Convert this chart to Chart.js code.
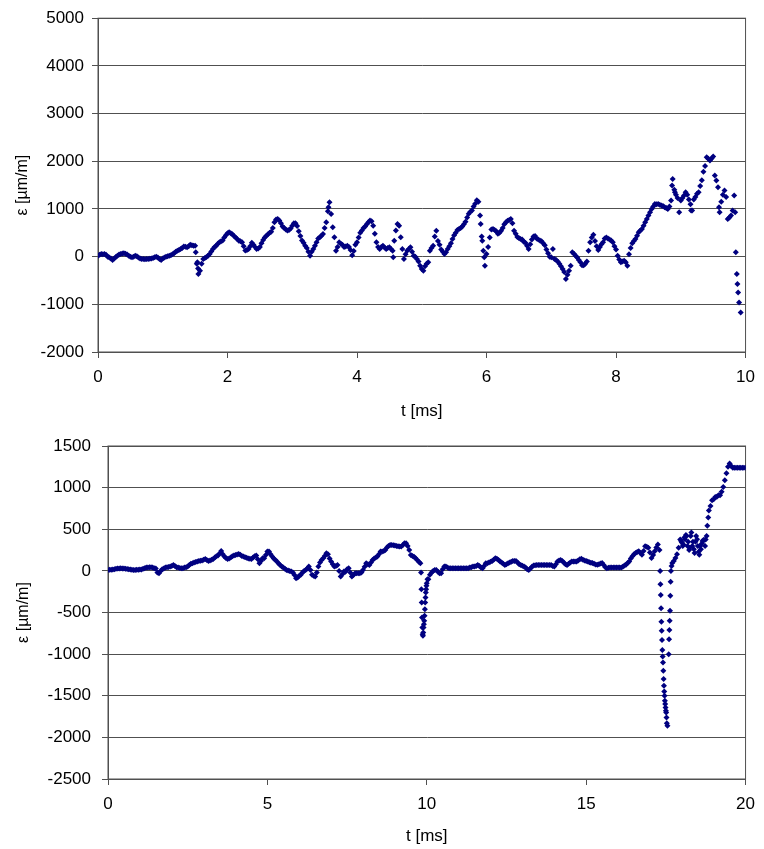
<!DOCTYPE html>
<html>
<head>
<meta charset="utf-8">
<script src="https://cdn.jsdelivr.net/npm/chart.js@4.4.1/dist/chart.umd.min.js"></script>
<style>
  html, body { margin: 0; padding: 0; background: #fff; }
  #wrap { position: relative; width: 764px; height: 849px; }
  canvas { position: absolute; left: 0; }
  #topChart { top: 0; }
  #bottomChart { top: 424px; }
</style>
</head>
<body>
<div id="wrap">
  <canvas id="topChart" width="764" height="424"></canvas>
  <canvas id="bottomChart" width="764" height="425"></canvas>
</div>
<script>
// ---- data (strain in µm/m) ----

// upper record: 0 .. 9.925 ms, one reading every 0.025 ms (one row = 0.5 ms)
const topStep = 0.025;
const topStrain = [
	20, 40, 55, 50, 55, 40, 0, -20, -40, -70, -40, -10, 20, 45, 55, 65, 70, 60, 45, 20,
	0, -15, 0, 20, 10, -20, -40, -50, -50, -55, -50, -50, -45, -40, -30, -15, 0, -20, -50, -70,
	-40, -20, 0, 10, 20, 30, 50, 70, 100, 125, 140, 160, 180, 210, 205, 195, 220, 250, 240, 230,
	230, -150, -365, -295, -150, -50, -30, -10, 20, 55, 110, 160, 200, 230, 270, 300, 320, 340, 400, 450,
	490, 510, 490, 470, 430, 400, 370, 335, 320, 300, 220, 130, 140, 160, 220, 290, 250, 200, 160, 170,
	200, 280, 350, 400, 440, 470, 500, 520, 600, 720, 780, 790, 760, 700, 630, 600, 570, 550, 560, 590,
	650, 700, 700, 640, 530, 430, 340, 290, 230, 180, 100, 20, 100, 160, 230, 300, 380, 405, 440, 475,
	600, 720, 950, 1140, 895, 615, 405, 125, 200, 300, 270, 250, 200, 210, 230, 200, 140, 30, 120, 250,
	300, 400, 500, 550, 600, 630, 680, 720, 760, 740, 650, 480, 300, 200, 160, 200, 230, 190, 160, 180,
	195, 160, 125, 335, 550, 685, 650, 405, 160, -50, 50, 125, 160, 195, 100, 20, 0, -50, -100, -190,
	-260, -295, -200, -150, -120, 125, 180, 230, 420, 545, 330, 250, 150, 100, 55, 90, 160, 220, 280, 370,
	450, 500, 560, 580, 600, 630, 680, 730, 820, 900, 940, 965, 1050, 1110, 1180, 1150, 860, 420, 125, -190,
	55, 200, 400, 570, 580, 560, 530, 480, 500, 545, 600, 680, 720, 750, 770, 790, 700, 545, 480, 410,
	390, 370, 360, 310, 290, 230, 160, 260, 360, 420, 430, 380, 360, 340, 320, 280, 240, 150, 70, 0,
	-15, 160, -50, -70, -100, -150, -200, -260, -320, -470, -380, -295, -190, 90, 60, 20, -20, -70, -120, -180,
	-180, -150, -100, 125, 300, 400, 460, 330, 220, 140, 200, 260, 300, 380, 400, 380, 360, 340, 300, 220,
	150, 20, -60, -120, -100, -85, -120, -190, 50, 180, 280, 330, 370, 440, 510, 550, 580, 650, 720, 790,
	860, 930, 1000, 1050, 1105, 1100, 1105, 1090, 1070, 1060, 1035, 1020, 1000, 1050, 1175, 1630, 1400, 1300, 1230, 930,
	1175, 1230, 1280, 1350, 1300, 1200, 1100, 965, 1200, 1250, 1320, 1350, 1480, 1600, 1780, 1900, 2085, 2050, 2015, 2060,
	2100, 1700, 1595, 1455, 930, 1150, 1300, 1385, 1250, 790, 820, 860, 965, 1280, 90, -575, -960, -1170
];
// stray readings between the regular samples of the upper record
const topExtraTime = [1.51, 1.535, 1.545, 3.56, 4.56, 5.91, 5.935, 5.965, 8.865, 8.91, 9.16, 9.59, 9.84, 9.865, 9.885];
const topExtraStrain = [90, -120, -250, 1035, -15, 685, 335, -15, 1490, 1350, 965, 1035, 930, -365, -750];

// lower record: 0 .. 20 ms, one reading every 0.05 ms (one row = 1 ms)
const bottomStep = 0.05;
const bottomStrain = [
	12, 15, 15, 18, 20, 25, 28, 30, 32, 30, 28, 25, 24, 20, 18, 15, 12, 12, 14, 15,
	16, 18, 25, 32, 40, 42, 44, 44, 40, 32, 30, -20, -28, 0, 20, 30, 40, 45, 48, 52,
	60, 72, 60, 45, 40, 36, 32, 32, 40, 45, 52, 70, 85, 92, 100, 108, 112, 118, 122, 124,
	135, 144, 130, 120, 125, 135, 144, 160, 175, 184, 210, 240, 200, 172, 155, 144, 150, 160, 175, 185,
	192, 198, 204, 195, 180, 172, 165, 158, 150, 146, 144, 160, 175, 184, 140, 92, 120, 152, 152, 190,
	232, 232, 200, 172, 150, 130, 112, 90, 70, 52, 40, 25, 12, 5, 0, -8, -20, -50, -88, -80,
	-60, -48, -20, 0, 12, 30, 52, 10, -48, -60, -68, -20, 52, 100, 130, 152, 180, 212, 200, 150,
	112, 80, 52, 60, 72, 0, -68, -40, -8, -10, 20, 32, -20, -68, -50, -28, -28, -28, -28, -20,
	12, 50, 92, 80, 72, 100, 132, 150, 160, 172, 200, 232, 232, 240, 252, 280, 300, 312, 312, 308,
	304, 300, 296, 292, 292, 310, 332, 332, 300, 250, 192, 180, 170, 152, 130, 110, 92, -560, -680, -380,
	-150, -100, -48, -20, 0, 10, 12, -10, -28, -28, 20, 52, 52, 40, 32, 32, 32, 32, 32, 32,
	32, 32, 32, 32, 32, 32, 32, 40, 45, 52, 52, 60, 72, 60, 40, 32, 60, 92, 92, 100,
	110, 120, 135, 152, 145, 130, 112, 100, 85, 72, 80, 92, 100, 110, 120, 120, 120, 100, 80, 72,
	62, 52, 40, 20, 12, 30, 50, 64, 68, 72, 72, 72, 72, 72, 72, 72, 72, 72, 72, 60,
	52, 80, 112, 125, 132, 120, 100, 80, 72, 85, 100, 112, 112, 112, 112, 125, 140, 145, 134, 125,
	118, 114, 105, 98, 94, 85, 78, 73, 80, 88, 94, 70, 45, 33, 38, 41, 41, 41, 41, 41,
	41, 41, 41, 50, 65, 73, 95, 114, 150, 175, 200, 216, 228, 236, 215, 195, 240, 297, 290, 277,
	220, 155, 190, 236, 280, 318, 250, -450, -1030, -1450, -1680, -1860, -820, -130, 94, 120, 155, 200, 277, 378,
	340, 318, 380, 419, 350, 277, 460, 350, 216, 419, 300, 195, 260, 358, 370, 378, 541, 724, 780, 847,
	860, 887, 890, 908, 908, 950, 1009, 1090, 1172, 1250, 1290, 1260, 1240, 1240, 1240, 1240, 1240, 1240, 1240, 1240,
	1240
];
// denser readings through the two sharp dips and the ragged stretch near 18 ms
const dipOneTime = [9.82, 9.83, 9.84, 9.86, 9.87, 9.88, 9.89, 9.91, 9.92, 9.93, 9.94, 9.96, 9.97, 9.98, 9.99, 10.02];
const dipOneStrain = [-20, -220, -380, -680, -760, -780, -740, -640, -600, -540, -460, -320, -260, -220, -180, -100];
const dipTwoTime = [17.32, 17.33, 17.34, 17.36, 17.37, 17.38, 17.39, 17.41, 17.42, 17.43, 17.44, 17.46, 17.47, 17.48, 17.49,
	17.51, 17.52, 17.53, 17.59, 17.61, 17.62, 17.63, 17.64, 17.66, 17.68];
const dipTwoStrain = [0, -160, -290, -610, -720, -830, -950, -1100, -1200, -1300, -1380, -1500, -1560, -1600, -1640,
	-1700, -1760, -1830, -1000, -710, -600, -480, -300, 0, 60];
const raggedTime = [17.98, 18.03, 18.08, 18.13, 18.18, 18.23, 18.28, 18.33, 18.38, 18.43, 18.48, 18.53, 18.58, 18.63, 18.68, 18.73, 18.78, 18.83];
const raggedStrain = [360, 300, 400, 430, 300, 250, 420, 300, 260, 350, 380, 230, 300, 330, 370, 300, 420, 640];

const topTicksX = { min: 0, max: 10, step: 2 };
const topTicksY = { min: -2000, max: 5000, step: 1000 };
const bottomTicksX = { min: 0, max: 20, step: 5 };
const bottomTicksY = { min: -2500, max: 1500, step: 500 };

const xTitle = 't [ms]';
const yTitle = 'ε [µm/m]';

// ---- drawing ----

const FONT = '"Liberation Sans", Arial, sans-serif';
const GRID = '#505050';
const NAVY = '#000080';

const plotFrame = {
	id: 'plotFrame',
	beforeDatasetsDraw: function(chart) {
		const a = chart.chartArea;
		const ctx = chart.ctx;
		ctx.save();
		ctx.strokeStyle = GRID;
		ctx.lineWidth = 1;
		ctx.strokeRect(a.left, a.top, a.right - a.left, a.bottom - a.top);
		ctx.restore();
	}
};

function uniformPoints(values, step) {
	return values.map((v, i) => ({ x: +(i * step).toFixed(3), y: v }));
}

function pairedPoints(times, values) {
	return times.map((t, i) => ({ x: t, y: values[i] }));
}

function makeChart(id, datasets, tx, ty, box) {
	return new Chart(document.getElementById(id), {
		type: 'scatter',
		data: {
			datasets: datasets.map((d) => ({
				data: d,
				pointStyle: 'rectRot',
				pointRadius: box.radius,
				pointHoverRadius: box.radius,
				backgroundColor: NAVY,
				borderColor: NAVY,
				borderWidth: 0
			}))
		},
		plugins: [plotFrame],
		options: {
			responsive: false,
			animation: false,
			events: [],
			layout: {
				padding: { top: box.padTop, right: box.padRight, left: 0, bottom: 0 }
			},
			plugins: {
				legend: { display: false },
				tooltip: { enabled: false }
			},
			scales: {
				x: {
					type: 'linear',
					min: tx.min,
					max: tx.max,
					afterFit: (s) => { s.height = box.xHeight; },
					ticks: {
						stepSize: tx.step,
						padding: 9,
						color: '#000',
						font: { family: FONT, size: 17 },
						callback: (v) => String(v)
					},
					grid: {
						drawOnChartArea: false,
						drawTicks: true,
						tickLength: 6,
						color: GRID
					},
					border: { color: GRID, width: 1 },
					title: {
						display: true,
						text: xTitle,
						color: '#000',
						font: { family: FONT, size: 17 },
						padding: { top: 0, bottom: 2 }
					}
				},
				y: {
					type: 'linear',
					min: ty.min,
					max: ty.max,
					afterFit: (s) => { s.width = box.yWidth; },
					ticks: {
						stepSize: ty.step,
						padding: box.yPad,
						color: '#000',
						font: { family: FONT, size: 17 },
						callback: (v) => String(v)
					},
					grid: {
						color: GRID,
						tickLength: 6
					},
					border: { color: GRID, width: 1 },
					title: {
						display: true,
						text: yTitle,
						color: '#000',
						font: { family: FONT, size: 16 },
						padding: { top: box.yTitlePad, bottom: 0 }
					}
				}
			}
		}
	});
}

makeChart('topChart',
	[uniformPoints(topStrain, topStep), pairedPoints(topExtraTime, topExtraStrain)],
	topTicksX, topTicksY,
	{ padTop: 18, padRight: 13, xHeight: 72, yWidth: 98, yPad: 8, yTitlePad: 13, radius: 3 });

makeChart('bottomChart',
	[uniformPoints(bottomStrain, bottomStep), pairedPoints(dipOneTime, dipOneStrain),
		pairedPoints(dipTwoTime, dipTwoStrain), pairedPoints(raggedTime, raggedStrain)],
	bottomTicksX, bottomTicksY,
	{ padTop: 22, padRight: 15, xHeight: 70, yWidth: 108, yPad: 11, yTitlePad: 14, radius: 3 });
</script>
</body>
</html>
